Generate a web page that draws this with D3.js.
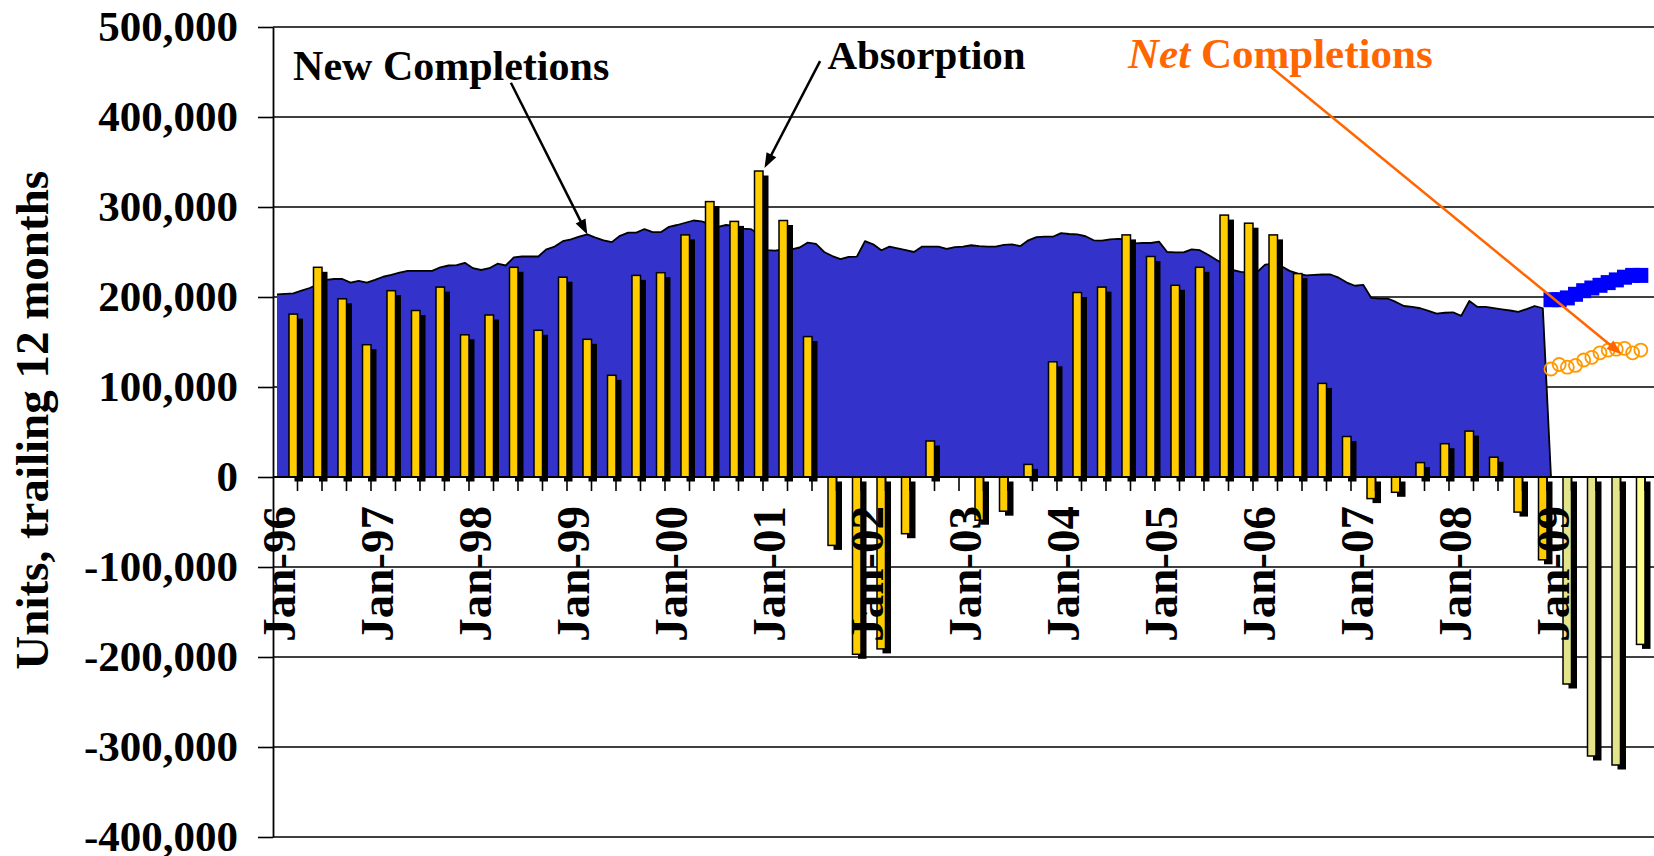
<!DOCTYPE html>
<html>
<head>
<meta charset="utf-8">
<script src="https://cdn.jsdelivr.net/npm/d3@7"></script>
<style>
body { margin: 0; background: #fff; }
text { font-family: "Liberation Serif", "Times New Roman", serif; font-weight: bold; }
</style>
</head>
<body>
<svg width="1654" height="856"></svg>
<script>
// absorption, trailing 12 months, thousands of units -- one bar per quarter tick (1..52)
var absorption = [181, 233, 198, 147, 207, 185, 211, 158, 180, 233, 163, 222, 153, 113, 224, 227,
  269, 306, 284, 340, 285, 156, -76, -197, -191, -63, 40, 0, -48, -38, 14, 128, 205, 211, 269,
  245, 213, 233, 291, 282, 269, 226, 104, 45, -24, -17, 16, 37, 51, 22, -39, -92];
// forecast absorption, quarters 53..56
var absorptionForecast = [-230, -310, -320, -186];

// new completions, monthly from Jan-96, thousands
var completions = [203, 203.5, 204, 207, 210, 214, 219, 220, 220, 216, 218, 216, 219, 222.5, 224.5, 227,
  229, 229, 229, 229, 233, 235, 235.5, 238, 232, 230, 232, 237, 235, 244, 245, 245, 245, 253, 256, 262,
  264, 267, 269.5, 266, 263, 261, 268, 271.5, 271.5, 275.5, 272, 272, 278, 280, 282.5, 285,
  284, 281, 278, 280, 279, 276, 275.5, 270, 252, 251.5, 253, 253, 255, 260.5, 259, 250, 245.5, 242,
  244.5, 244.8, 262, 258.5, 252, 256, 254, 252, 250, 256, 256, 256, 253.5, 255.5, 256, 257.5, 256.5,
  256, 256, 258, 258.5, 256.5, 263, 266.5, 267, 267, 271, 270, 269.6, 267.5, 263, 262.6, 264, 264.5, 264,
  259.6, 260, 260, 261.5, 250, 249.5, 249.6, 253, 252, 247, 241.5, 236, 230, 228, 227.5, 227.5, 236,
  237, 234, 229, 226, 224, 224.5, 225, 225, 221.5, 216, 212.5, 213.5, 199, 198.3, 198.3, 194.5, 190,
  189, 187.5, 184.5, 181.5, 182.5, 183, 179, 195.5, 189, 189, 187.6, 186.3, 185, 183.4, 186.5, 190, 187.5];
// forecast completions and net completions, monthly 2009
var completionsForecast = [197, 197, 199, 203, 207, 210, 213, 216, 219, 222, 224, 224];
var netCompletions = [120, 125, 122, 124, 130, 133, 138, 141, 142, 143, 138, 141];

var yearLabels = ["Jan-96", "Jan-97", "Jan-98", "Jan-99", "Jan-00", "Jan-01", "Jan-02",
  "Jan-03", "Jan-04", "Jan-05", "Jan-06", "Jan-07", "Jan-08", "Jan-09"];
var yTicks = [-400, -300, -200, -100, 0, 100, 200, 300, 400, 500];

var svg = d3.select("svg"),
    width = +svg.attr("width"),
    height = +svg.attr("height");

// x in quarters since Jan-96, y in thousands of units
var x = d3.scaleLinear().domain([0, 56]).range([273, 1645]);
var y = d3.scaleLinear().domain([-400, 500]).range([837, 27]);
function xm(i) { return x(i / 3) + 4; }   // monthly position

var fmt = d3.format(",");
function yFormat(d) { return (d < 0 ? "-" : "") + fmt(Math.abs(d) * 1000); }

// gridlines
svg.append("g").selectAll("line")
  .data(yTicks)
  .enter().append("line")
  .attr("x1", x(0)).attr("x2", width)
  .attr("y1", function (d) { return y(d); })
  .attr("y2", function (d) { return y(d); })
  .attr("stroke", "#000").attr("stroke-width", 1.6);

// new completions area
var areaData = completions.concat([0]);
svg.append("path")
  .datum(areaData)
  .attr("fill", "#3333cc")
  .attr("d", d3.area()
    .x(function (d, i) { return xm(i); })
    .y0(y(0))
    .y1(function (d) { return y(d); }));
svg.append("path")
  .datum(areaData)
  .attr("fill", "none")
  .attr("stroke", "#000")
  .attr("stroke-width", 1.8)
  .attr("stroke-linejoin", "round")
  .attr("d", d3.line()
    .x(function (d, i) { return xm(i); })
    .y(function (d) { return y(d); }));

// bars
var bars = [];
absorption.forEach(function (v, i) { bars.push({ q: i + 1, v: v, fc: false }); });
absorptionForecast.forEach(function (v, i) { bars.push({ q: absorption.length + i + 1, v: v, fc: true }); });
bars = bars.filter(function (d) { return d.v !== 0; });

var barW = 8.5, shX = 5.5, shY = 4.5;

svg.append("g").selectAll("rect")
  .data(bars)
  .enter().append("rect")
  .attr("x", function (d) { return x(d.q) - barW + shX; })
  .attr("y", function (d) { return Math.min(y(d.v), y(0)) + shY; })
  .attr("width", barW)
  .attr("height", function (d) { return Math.abs(y(d.v) - y(0)); })
  .attr("fill", "#000");

svg.append("g").selectAll("rect")
  .data(bars)
  .enter().append("rect")
  .attr("x", function (d) { return x(d.q) - barW; })
  .attr("y", function (d) { return Math.min(y(d.v), y(0)); })
  .attr("width", barW)
  .attr("height", function (d) { return Math.abs(y(d.v) - y(0)); })
  .attr("fill", function (d) { return d.fc ? (d.q === 56 ? "#ffff8c" : "#e4e48a") : "#ffcc00"; })
  .attr("stroke", "#000")
  .attr("stroke-width", 1.5);

// 2009 forecast markers
var m0 = completions.length;
svg.append("g").selectAll("rect")
  .data(completionsForecast)
  .enter().append("rect")
  .attr("x", function (d, i) { return xm(m0 + i) - 7.5; })
  .attr("y", function (d) { return y(d) - 7.5; })
  .attr("width", 15).attr("height", 15)
  .attr("fill", "#0000ff");

svg.append("g").selectAll("circle")
  .data(netCompletions)
  .enter().append("circle")
  .attr("cx", function (d, i) { return xm(m0 + i); })
  .attr("cy", function (d) { return y(d); })
  .attr("r", 6.5)
  .attr("fill", "none")
  .attr("stroke", "#ff9900")
  .attr("stroke-width", 1.8);

// axes
var yAxis = svg.append("g")
  .attr("transform", "translate(" + x(0) + ",0)")
  .call(d3.axisLeft(y).tickValues(yTicks).tickSize(15).tickSizeOuter(0).tickPadding(20).tickFormat(yFormat));
yAxis.select(".domain").attr("stroke", "#000").attr("stroke-width", 1.8);
yAxis.selectAll(".tick line").attr("stroke", "#000").attr("stroke-width", 1.6);
yAxis.selectAll("text").attr("fill", "#000").style("font-size", "43px")
  .style("font-family", "'Liberation Serif', serif").style("font-weight", "bold");

svg.append("line")
  .attr("x1", x(0)).attr("x2", width)
  .attr("y1", y(0)).attr("y2", y(0))
  .attr("stroke", "#000").attr("stroke-width", 2);

svg.append("g").selectAll("line")
  .data(d3.range(1, 57))
  .enter().append("line")
  .attr("x1", function (d) { return x(d); })
  .attr("x2", function (d) { return x(d); })
  .attr("y1", y(0)).attr("y2", y(0) + 14)
  .attr("stroke", "#000").attr("stroke-width", 1.6);

svg.append("g").selectAll("text")
  .data(yearLabels)
  .enter().append("text")
  .attr("transform", function (d, i) { return "translate(" + (x(i * 4) + 21.5) + "," + (y(0) + 29) + ") rotate(-90)"; })
  .attr("text-anchor", "end")
  .style("font-size", "47px")
  .attr("fill", "#000")
  .text(function (d) { return d; });

svg.append("text")
  .attr("transform", "translate(48," + y(63) + ") rotate(-90)")
  .attr("text-anchor", "middle")
  .style("font-size", "47px")
  .attr("fill", "#000")
  .text("Units, trailing 12 months");

// annotations
function arrow(x1, y1, x2, y2, color) {
  var a = Math.atan2(y2 - y1, x2 - x1), len = 15, half = 5.5;
  var bx = x2 - len * Math.cos(a), by = y2 - len * Math.sin(a);
  svg.append("line")
    .attr("x1", x1).attr("y1", y1).attr("x2", bx + 2 * Math.cos(a)).attr("y2", by + 2 * Math.sin(a))
    .attr("stroke", color).attr("stroke-width", 2.5);
  svg.append("path")
    .attr("d", "M" + x2 + "," + y2 +
      "L" + (bx - half * Math.sin(a)) + "," + (by + half * Math.cos(a)) +
      "L" + (bx + half * Math.sin(a)) + "," + (by - half * Math.cos(a)) + "Z")
    .attr("fill", color);
}

svg.append("text")
  .attr("x", x(0.82)).attr("y", y(441))
  .style("font-size", "42px").attr("fill", "#000")
  .text("New Completions");
arrow(x(9.71), y(438), xm(38), y(completions[38]), "#000");

svg.append("text")
  .attr("x", x(22.63)).attr("y", y(453))
  .style("font-size", "41px").attr("fill", "#000")
  .text("Absorption");
arrow(x(22.33), y(462), x(20) + 1.5, y(absorption[19]) - 3, "#000");

var net = svg.append("text")
  .attr("x", x(34.9)).attr("y", y(454))
  .style("font-size", "43px").attr("fill", "#ff6600");
net.append("tspan").style("font-style", "italic").text("Net");
net.append("tspan").text(" Completions");
arrow(x(40.73), y(455.5), xm(m0 + 9) - 3, y(netCompletions[9]) + 6, "#ff6600");
</script>
</body>
</html>
